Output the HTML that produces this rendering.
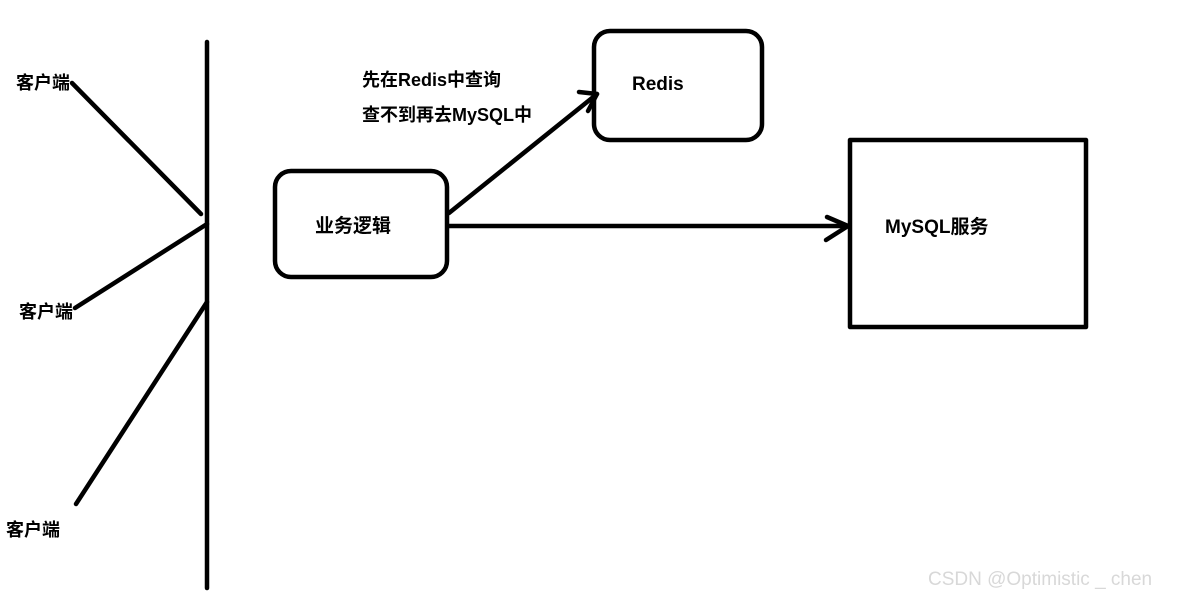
<!DOCTYPE html>
<html><head><meta charset="utf-8"><style>
html,body{margin:0;padding:0;background:#fff;}
svg{display:block}
text{font-family:"Liberation Sans","Noto Sans CJK SC",sans-serif;font-weight:bold;fill:#000}
</style></head><body>
<svg width="1203" height="598" viewBox="0 0 1203 598" xmlns="http://www.w3.org/2000/svg">
<g stroke="#000" stroke-width="4.5" fill="none" stroke-linecap="round" stroke-linejoin="round">
<line x1="207" y1="42" x2="207" y2="588"/>
<line x1="72" y1="83" x2="201" y2="214"/>
<line x1="75" y1="308" x2="207" y2="224"/>
<line x1="76" y1="504" x2="207" y2="302"/>
<rect x="275" y="171" width="172" height="106" rx="16"/>
<rect x="594" y="31" width="168" height="109" rx="16"/>
<rect x="850" y="140" width="236" height="187"/>
<line x1="449" y1="213" x2="597" y2="94"/>
<polyline points="579,92 597,94 588,111"/>
<line x1="449" y1="226" x2="848" y2="226"/>
<polyline points="827,217 848,226 826,240"/>
</g>
<text x="16" y="89" font-size="18">客户端</text>
<text x="19" y="318" font-size="18">客户端</text>
<text x="6" y="536" font-size="18">客户端</text>
<text x="315" y="232" font-size="19">业务逻辑</text>
<text x="632" y="90" font-size="19">Redis</text>
<text x="885" y="233" font-size="19">MySQL服务</text>
<text x="362" y="86" font-size="18">先在Redis中查询</text>
<text x="362" y="121" font-size="18">查不到再去MySQL中</text>
<text x="928" y="585" font-size="19" style="font-weight:normal;fill:#d8d8d8">CSDN @Optimistic _ chen</text>
</svg>
</body></html>
